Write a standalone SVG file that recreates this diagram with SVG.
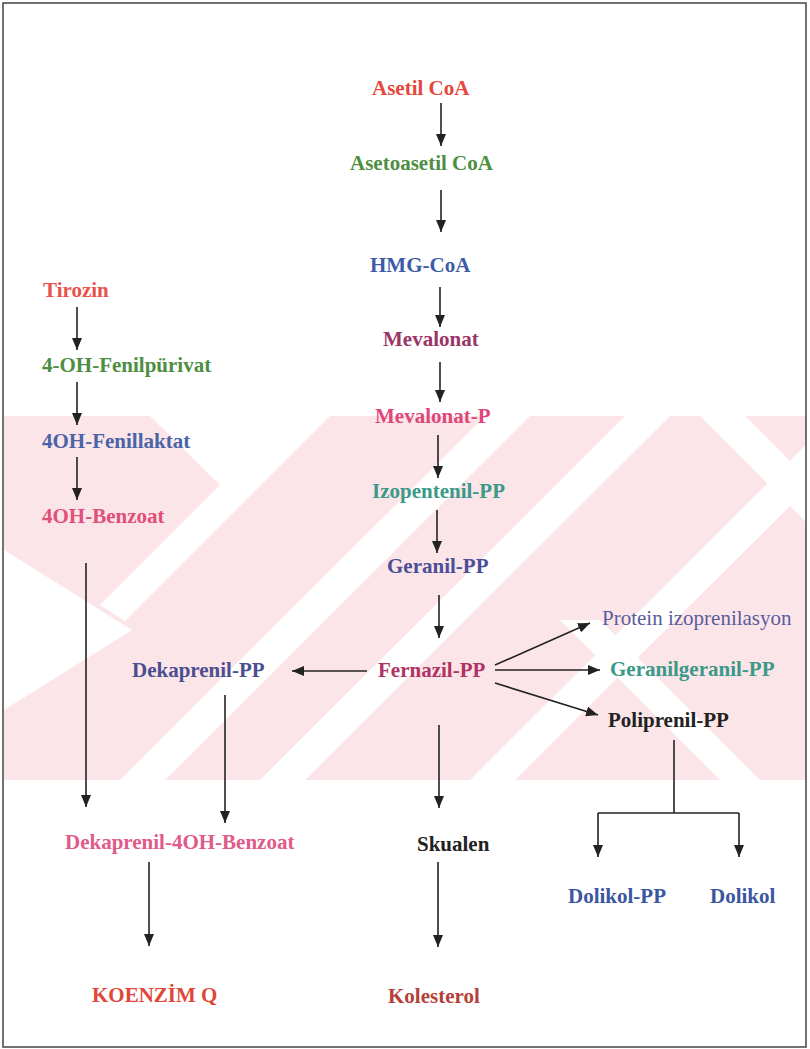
<svg xmlns="http://www.w3.org/2000/svg" width="810" height="1049" viewBox="0 0 810 1049">
<defs>
<marker id="ah" viewBox="0 0 12 10" markerWidth="12" markerHeight="10" refX="12" refY="5" orient="auto" markerUnits="userSpaceOnUse">
<path d="M0,0 L12,5 L0,10 z" fill="#222"/>
</marker>
<clipPath id="band"><rect x="4" y="416" width="802" height="364"/></clipPath>
</defs>
<style>
text{font-family:"Liberation Serif","Times New Roman",serif;font-size:21px;font-weight:bold}
.reg{font-weight:normal}
.c line,.c polyline{stroke:#222;stroke-width:1.6;fill:none}
.a{marker-end:url(#ah)}
</style>
<rect width="810" height="1049" fill="#fff"/>
<g id="watermark" clip-path="url(#band)">
<rect x="4" y="416" width="802" height="364" fill="#fce5e8"/>
<g fill="#fff">
<polygon points="150,416 330,416 125,621 100,605 220,485"/>
<polygon points="4,550 132,630 4,710"/>
<polygon points="120,780 165,780 530,416 485,416"/>
<polygon points="260,780 305,780 670,416 625,416"/>
<polygon points="470,780 515,780 806,490 806,445"/>
<polygon points="700,416 745,416 806,477 806,522"/>
<polygon points="560,620 600,620 760,780 720,780"/>
</g>
</g>
<rect x="3" y="3" width="803" height="1044" fill="none" stroke="#444" stroke-width="1.5"/>
<g id="connectors" class="c">
<line class="a" x1="441" y1="103" x2="441" y2="146"/>
<line class="a" x1="441" y1="190" x2="441" y2="232"/>
<line class="a" x1="440" y1="287" x2="440" y2="327"/>
<line class="a" x1="440" y1="362" x2="440" y2="402"/>
<line class="a" x1="438" y1="435" x2="438" y2="478"/>
<line class="a" x1="437" y1="510" x2="437" y2="553"/>
<line class="a" x1="439" y1="595" x2="439" y2="638"/>
<line class="a" x1="367" y1="671" x2="292" y2="671"/>
<line class="a" x1="495" y1="665" x2="590" y2="623"/>
<line class="a" x1="495" y1="670" x2="600" y2="670"/>
<line class="a" x1="495" y1="683" x2="598" y2="715"/>
<line class="a" x1="439" y1="725" x2="439" y2="808"/>
<line class="a" x1="438" y1="862" x2="438" y2="947"/>
<line class="a" x1="225" y1="695" x2="225" y2="823"/>
<line class="a" x1="86" y1="563" x2="86" y2="807"/>
<line class="a" x1="149" y1="862" x2="149" y2="946"/>
<line x1="674" y1="740" x2="674" y2="813"/>
<polyline points="598,813 739,813"/>
<line class="a" x1="598" y1="813" x2="598" y2="857"/>
<line class="a" x1="739" y1="813" x2="739" y2="857"/>
<line class="a" x1="77" y1="307" x2="77" y2="350"/>
<line class="a" x1="77" y1="382" x2="77" y2="425"/>
<line class="a" x1="77" y1="457" x2="77" y2="500"/>
</g>
<g id="asetil-coa"><text x="372" y="95" fill="#e5473d">Asetil CoA</text></g>
<g id="asetoasetil-coa"><text x="350" y="170" fill="#4e8e42">Asetoasetil CoA</text></g>
<g id="hmg-coa"><text x="370" y="272" fill="#3d5ca8">HMG-CoA</text></g>
<g id="mevalonat"><text x="383" y="346" fill="#9a3566">Mevalonat</text></g>
<g id="mevalonat-p"><text x="375" y="423" fill="#df4679">Mevalonat-P</text></g>
<g id="izopentenil-pp"><text x="372" y="498" fill="#3a9988">Izopentenil-PP</text></g>
<g id="geranil-pp"><text x="387" y="573" fill="#4a4f98">Geranil-PP</text></g>
<g id="fernazil-pp"><text x="378" y="677" fill="#b13365">Fernazil-PP</text></g>
<g id="dekaprenil-pp"><text x="132" y="677" fill="#4a4f90">Dekaprenil-PP</text></g>
<g id="protein-izoprenilasyon"><text class="reg" x="602" y="625" fill="#5a5c9c">Protein izoprenilasyon</text></g>
<g id="geranilgeranil-pp"><text x="610" y="676" fill="#3a9988">Geranilgeranil-PP</text></g>
<g id="poliprenil-pp"><text x="608" y="727" fill="#222">Poliprenil-PP</text></g>
<g id="tirozin"><text x="43" y="297" fill="#e8524a">Tirozin</text></g>
<g id="fenilpurivat"><text x="42" y="372" fill="#4e8e42">4-OH-Fenilpürivat</text></g>
<g id="fenillaktat"><text x="42" y="448" fill="#4a64a8">4OH-Fenillaktat</text></g>
<g id="benzoat"><text x="42" y="523" fill="#e0507a">4OH-Benzoat</text></g>
<g id="dekaprenil-benzoat"><text x="65" y="849" fill="#e05a8a">Dekaprenil-4OH-Benzoat</text></g>
<g id="koenzim-q"><text x="92" y="1002" fill="#e0473a">KOENZİM Q</text></g>
<g id="skualen"><text x="417" y="851" fill="#222">Skualen</text></g>
<g id="kolesterol"><text x="388" y="1003" fill="#b5403a">Kolesterol</text></g>
<g id="dolikol-pp"><text x="568" y="903" fill="#3b56a0">Dolikol-PP</text></g>
<g id="dolikol"><text x="710" y="903" fill="#3b56a0">Dolikol</text></g>
</svg>
